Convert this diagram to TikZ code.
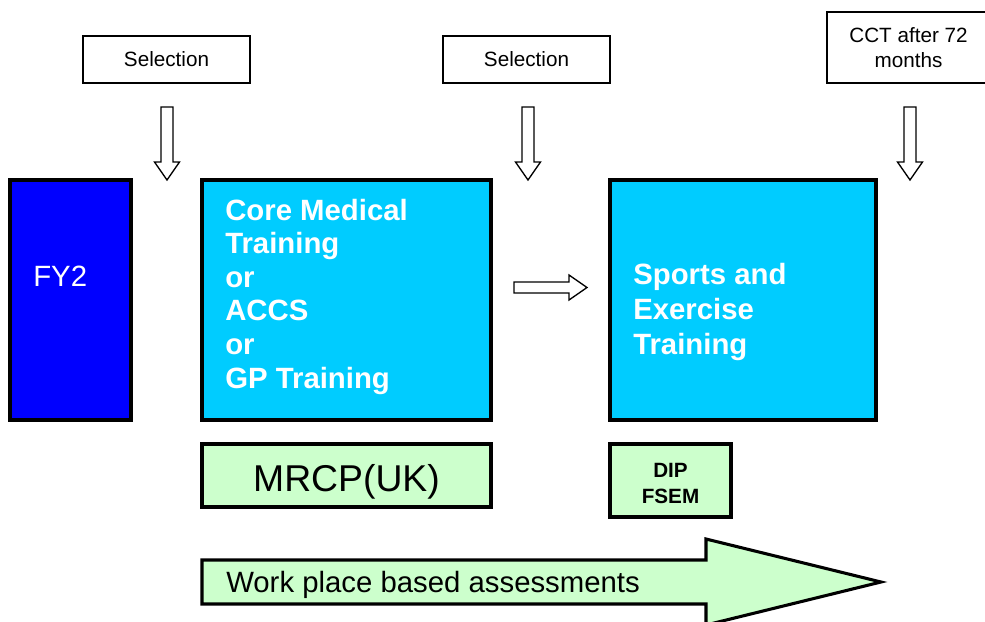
\documentclass[tikz,border=0pt]{standalone}
\usepackage{fontspec}
\setmainfont{Liberation Sans}
\definecolor{fyblue}{RGB}{0,0,255}
\definecolor{cyanbox}{RGB}{0,204,255}
\definecolor{lgreen}{RGB}{204,255,204}
\tikzset{
  thinbox/.style={draw=black,line width=1.1pt,fill=white,inner sep=0pt,
    font=\fontsize{15.5}{18.5}\selectfont,align=center},
  bigbox/.style={draw=black,line width=2.3pt,inner sep=0pt},
  boxtext/.style={text=white,inner sep=0pt,anchor=base west,align=left},
  hollow/.style={draw=black,line width=1pt,fill=white,line join=miter},
  hdown/.pic={\draw[hollow] (-6,0) -- (6,0) -- (6,55) -- (12.5,55) -- (0,73) -- (-12.5,55) -- (-6,55) -- cycle;}
}
\begin{document}
\begin{tikzpicture}[x=0.75pt,y=-0.75pt]
\useasboundingbox (0,0) rectangle (985,621);
\clip (0,0) rectangle (985,621);

% top boxes
\node[thinbox,minimum width=167*0.75pt,minimum height=47*0.75pt] (sel1) at (166.5,59.5) {Selection};
\node[thinbox,minimum width=167*0.75pt,minimum height=47*0.75pt] (sel2) at (526.5,59.5) {Selection};
\node[thinbox,minimum width=163*0.75pt,minimum height=71*0.75pt] (cct) at (908.5,47.5) {CCT after 72\\months};

% down arrows
\pic at (167,107) {hdown};
\pic at (528,107) {hdown};
\pic at (910,107) {hdown};

% main boxes
\node[bigbox,fill=fyblue,minimum width=121*0.75pt,minimum height=240*0.75pt] (fy2) at (70.5,300) {};
\node[text=white,inner sep=0pt,anchor=base west,font=\fontsize{22}{25}\selectfont] (fy2t) at (33,286) {FY2};

\node[bigbox,fill=cyanbox,minimum width=289*0.75pt,minimum height=240*0.75pt] (core) at (346.5,300) {};
\node[boxtext,font=\fontsize{22}{25.2}\selectfont\bfseries] (coret) at (225,388) {Core Medical\\Training\\or\\ACCS\\or\\GP Training};

\node[bigbox,fill=cyanbox,minimum width=266*0.75pt,minimum height=240*0.75pt] (sports) at (743,300) {};
\node[boxtext,font=\fontsize{22}{25.9}\selectfont\bfseries] (sportst) at (633,354) {Sports and\\Exercise\\Training};

% right hollow arrow
\draw[hollow] (514,282) -- (569,282) -- (569,275) -- (587,287.5) -- (569,300) -- (569,293) -- (514,293) -- cycle;

% green boxes
\node[bigbox,fill=lgreen,minimum width=289*0.75pt,minimum height=63*0.75pt] (mrcp) at (346.5,475.5) {};
\node[inner sep=0pt,anchor=base,font=\fontsize{28}{30}\selectfont] (mrcpt) at (346.5,491) {MRCP(UK)};
\node[bigbox,fill=lgreen,minimum width=121*0.75pt,minimum height=73*0.75pt] (dip) at (670.5,480.5) {};
\node[inner sep=0pt,anchor=base,align=center,font=\fontsize{15.5}{19.5}\selectfont\bfseries] (dipt) at (670.5,503) {DIP\\FSEM};

% big arrow
\draw[draw=black,line width=2.3pt,fill=lgreen,line join=miter]
  (202,560) -- (706,560) -- (706,539) -- (881,582) -- (706,625) -- (706,604) -- (202,604) -- cycle;
\node[inner sep=0pt,anchor=base west,font=\fontsize{22}{25}\selectfont] (wpba) at (226,592) {Work place based assessments};
\end{tikzpicture}
\end{document}
